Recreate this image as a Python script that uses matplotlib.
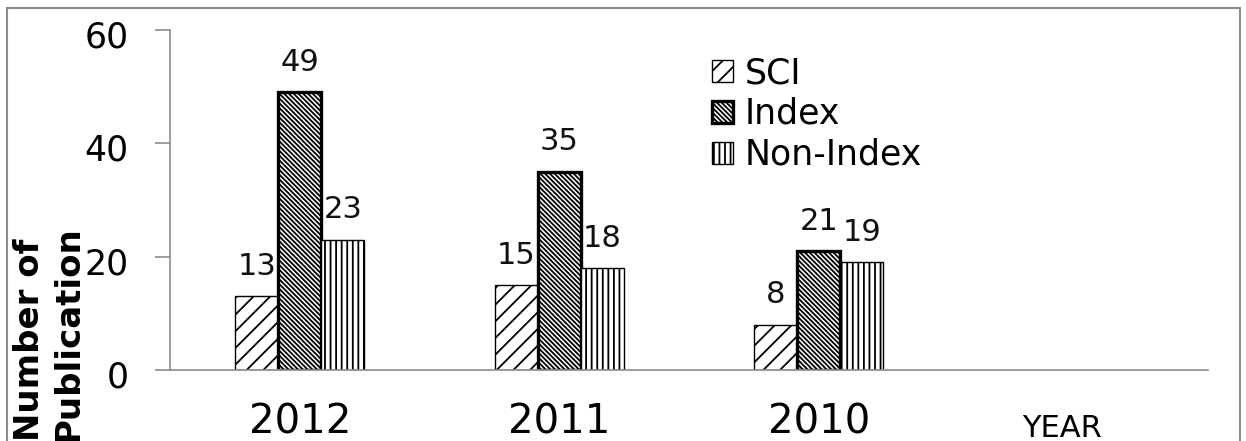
import matplotlib
matplotlib.use("Agg")
import matplotlib.pyplot as plt
import matplotlib.transforms as mtransforms
from matplotlib.patches import Rectangle
import numpy as np

# data
categories = ["2012", "2011", "2010", "YEAR"]
sci = [13, 15, 8]
index = [49, 35, 21]
non_index = [23, 18, 19]
series_names = ["SCI", "Index", "Non-Index"]

plt.rcParams["font.family"] = "DejaVu Sans"
plt.rcParams["hatch.linewidth"] = 1.3

W, H = 1246, 441
fig = plt.figure(figsize=(W / 100, H / 100), dpi=100)
ax = fig.add_axes([170 / W, 71 / H, 1038 / W, 340 / H])

x = np.arange(len(sci))
w = 0.166
b1 = ax.bar(x - w, sci, w, facecolor="white", edgecolor="black", linewidth=1.0,
            hatch="//", label=series_names[0])
b2 = ax.bar(x, index, w, facecolor="white", edgecolor="black", linewidth=2.4,
            hatch="\\" * 7, label=series_names[1])
b3 = ax.bar(x + w, non_index, w, facecolor="white", edgecolor="black", linewidth=1.0,
            hatch="|||", label=series_names[2])

for bars in (b1, b2, b3):
    ax.bar_label(bars, padding=11, fontsize=22, color="#111111")

ax.set_xlim(-0.5, len(categories) - 0.5)
ax.set_ylim(0, 60)
ax.set_yticks([0, 20, 40, 60])
ax.set_xticks(np.arange(len(categories)))
ax.set_xticklabels(categories)

for s in ("top", "right"):
    ax.spines[s].set_visible(False)
for s in ("left", "bottom"):
    ax.spines[s].set_color("#8c8c8c")
    ax.spines[s].set_linewidth(1.2)

ax.tick_params(axis="y", direction="out", length=11, width=1.2, color="#8c8c8c",
               labelsize=25, pad=19)
ax.tick_params(axis="x", length=0, labelsize=29, pad=46)

# Excel puts the y labels a little below their ticks
shift_down = mtransforms.ScaledTranslation(0, -4 / 100, fig.dpi_scale_trans)
for lab in ax.get_yticklabels():
    lab.set_transform(lab.get_transform() + shift_down)

for lab in ax.get_xticklabels():
    lab.set_verticalalignment("baseline")
year_lab = ax.get_xticklabels()[-1]
year_lab.set_fontsize(22)
year_lab.set_transform(year_lab.get_transform()
                       + mtransforms.ScaledTranslation(-16 / 100, -3 / 100, fig.dpi_scale_trans))

fig.text(49 / W, 0, "Number of\nPublication", rotation=90, ha="center",
         va="bottom", fontsize=24.5, fontweight="bold", linespacing=1.2,
         multialignment="left")

leg = ax.legend(loc="upper left", bbox_to_anchor=(712 / W, 1 - 56 / H),
                bbox_transform=fig.transFigure, frameon=False, fontsize=25,
                handlelength=0.6, handleheight=0.6, handletextpad=0.35,
                labelspacing=0.2, borderpad=0, borderaxespad=0)

# grey frame round the whole chart
fig.patches.append(Rectangle((7 / W, -0.1), 1233 / W, 1.1 - 8 / H, transform=fig.transFigure,
                             fill=False, edgecolor="#8c8c8c", linewidth=1.5))

plt.savefig("out.png", dpi=100)
plt.close()
